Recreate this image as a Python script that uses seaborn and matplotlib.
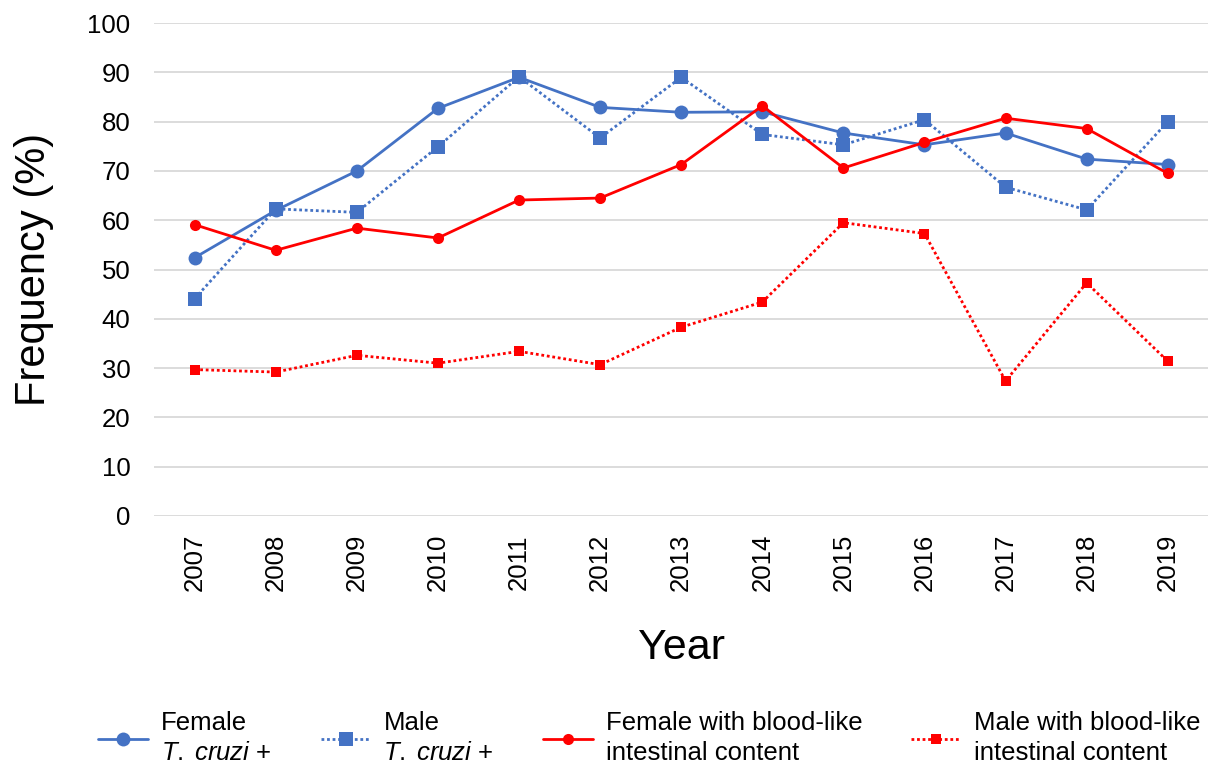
import pandas as pd
import matplotlib
matplotlib.use("Agg")
from matplotlib import pyplot as plt
import seaborn as sns

years = [2007, 2008, 2009, 2010, 2011, 2012, 2013, 2014, 2015, 2016, 2017, 2018, 2019]
female_tc = [52.4, 62.0, 70.0, 82.7, 89.0, 82.9, 81.9, 82.0, 77.7, 75.3, 77.7, 72.4, 71.3]
male_tc = [44.1, 62.3, 61.6, 74.9, 89.1, 76.7, 89.0, 77.4, 75.3, 80.4, 66.7, 62.1, 80.0]
female_blood = [59.1, 53.9, 58.4, 56.4, 64.1, 64.5, 71.3, 83.2, 70.6, 75.8, 80.7, 78.6, 69.5]
male_blood = [29.7, 29.2, 32.6, 31.0, 33.4, 30.7, 38.3, 43.4, 59.5, 57.3, 27.4, 47.3, 31.4]

labels = ["Female\n$\\it{T.\\;cruzi}$ +", "Male\n$\\it{T.\\;cruzi}$ +",
          "Female with blood-like\nintestinal content", "Male with blood-like\nintestinal content"]

blue = "#4472C4"
red = "#FF0000"

sns.set_style("whitegrid")
plt.rcParams["font.family"] = ["Liberation Sans", "DejaVu Sans"]
plt.rcParams["mathtext.fontset"] = "custom"
plt.rcParams["mathtext.it"] = "Liberation Sans:italic"
plt.rcParams["mathtext.rm"] = "Liberation Sans"

fig = plt.figure(figsize=(12.23, 7.69), dpi=100)
ax = fig.add_axes([0.126, 0.329, 0.862, 0.641])

dotted = (0, (1, 1))
sns.lineplot(x=years, y=female_tc, ax=ax, color=blue, marker="o", markersize=10,
             markeredgewidth=0, linewidth=2, label=labels[0])
sns.lineplot(x=years, y=male_tc, ax=ax, color=blue, marker="s", markersize=10,
             markeredgewidth=0, linewidth=2, linestyle=dotted, label=labels[1])
sns.lineplot(x=years, y=female_blood, ax=ax, color=red, marker="o", markersize=8,
             markeredgewidth=0, linewidth=2, label=labels[2])
sns.lineplot(x=years, y=male_blood, ax=ax, color=red, marker="s", markersize=7.5,
             markeredgewidth=0, linewidth=2, linestyle=dotted, label=labels[3])

ax.set_xlim(years[0] - 0.5, years[-1] + 0.5)
ax.set_ylim(0, 100)
ax.set_yticks(range(0, 101, 10))
ax.set_xticks(years)
ax.set_xticklabels([str(y) for y in years], rotation=90)
ax.tick_params(axis="both", labelsize=18.5, length=0, colors="#000000")
ax.tick_params(axis="x", pad=13)
ax.tick_params(axis="y", pad=17)
ax.grid(axis="x", visible=False)
ax.grid(axis="y", color="#D9D9D9", linewidth=1.3)
for s in ax.spines.values():
    s.set_visible(False)

ax.set_xlabel("Year", fontsize=31, labelpad=26, color="#000000")
ax.set_ylabel("Frequency (%)", fontsize=30, labelpad=24, color="#000000")

ax.legend_.remove()
handles, labs = ax.get_legend_handles_labels()
leg = fig.legend(handles, labs, loc="center left", bbox_to_anchor=(0.072, 0.04), ncol=4,
                 frameon=False, fontsize=18.5, handlelength=1.95, columnspacing=1.9,
                 handletextpad=0.5, borderaxespad=0)
for t in leg.get_texts():
    t.set_linespacing(1.3)
    t.set_color("#000000")

fig.savefig("out.png", dpi=100)
